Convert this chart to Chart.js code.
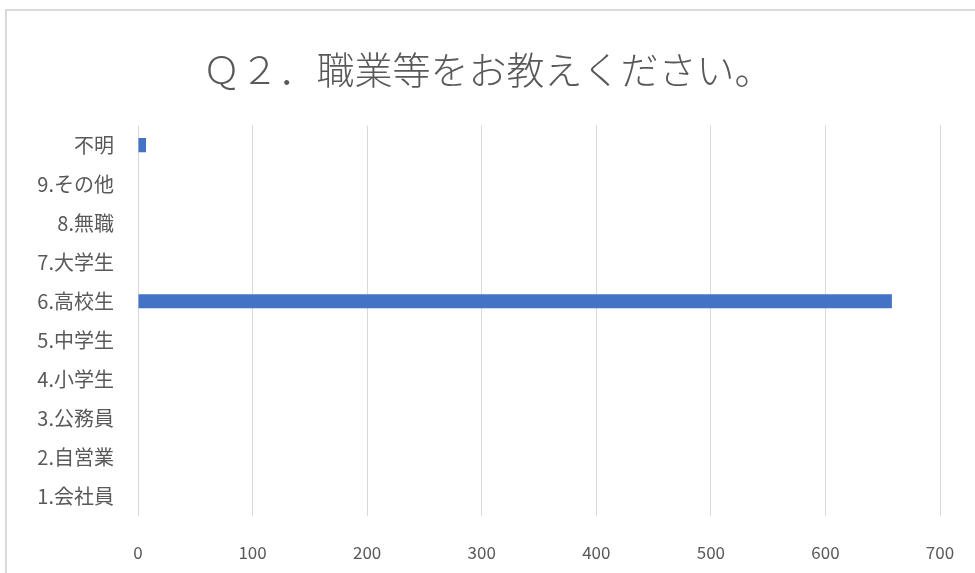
<!DOCTYPE html>
<html>
<head>
<meta charset="utf-8">
<script src="https://cdn.jsdelivr.net/npm/chart.js@4"></script>
<style>
  html, body { margin: 0; padding: 0; background: #fff; overflow: hidden; }
  body { width: 975px; height: 573px; position: relative; }
  #frame {
    position: absolute; left: 5px; top: 9px; width: 968px; height: 562px;
    border-top: 2px solid #d9d9d9; border-left: 2px solid #d9d9d9;
  }
  #wrap { position: absolute; left: 7px; top: 11px; width: 968px; height: 562px; }
</style>
</head>
<body>
<div id="frame"></div>
<div id="wrap"><canvas id="shokugyo"></canvas></div>
<script>
// Q2 職業
const categories = ["不明", "9.その他", "8.無職", "7.大学生", "6.高校生", "5.中学生", "4.小学生", "3.公務員", "2.自営業", "1.会社員"];
const counts = [7, 0, 0, 0, 658, 0, 0, 0, 0, 0];
const xTicks = [0, 100, 200, 300, 400, 500, 600, 700];

const fontFamily = "'Noto Sans CJK JP', 'Noto Sans', sans-serif";
const grey = "#595959";

const shokugyo = document.getElementById("shokugyo");

new Chart(shokugyo, {
  type: "bar",
  data: {
    labels: categories,
    datasets: [
      {
        label: "件数",
        data: counts,
        backgroundColor: "#4472C4",
        borderWidth: 0,
        barPercentage: 0.36,
        categoryPercentage: 1,
      },
    ],
  },
  options: {
    indexAxis: "y",
    responsive: true,
    maintainAspectRatio: false,
    animation: false,
    layout: { padding: { left: 28, right: 35, top: 0, bottom: 0 } },
    plugins: {
      legend: { display: false },
      tooltip: { enabled: false },
      title: {
        display: true,
        text: "Ｑ２．職業等をお教えください。",
        color: grey,
        font: { family: fontFamily, size: 38, weight: 300, lineHeight: 1.2 },
        padding: { top: 36, bottom: 33 },
      },
    },
    scales: {
      x: {
        min: xTicks[0],
        max: xTicks[xTicks.length - 1],
        afterBuildTicks: (s) => { s.ticks = xTicks.map((v) => ({ value: v })); },
        afterFit: (s) => { s.height = 57; },
        grid: { color: "#d9d9d9", lineWidth: 1, drawTicks: true, tickLength: 22, tickColor: "rgba(0,0,0,0)" },
        border: { display: false },
        ticks: { color: grey, padding: 4, font: { family: fontFamily, size: 17 } },
      },
      y: {
        afterFit: (s) => { s.width = 103; },
        grid: { display: false, drawTicks: false },
        border: { display: false },
        ticks: { color: grey, padding: 24, font: { family: fontFamily, size: 20 } },
      },
    },
  },
});
</script>
</body>
</html>
